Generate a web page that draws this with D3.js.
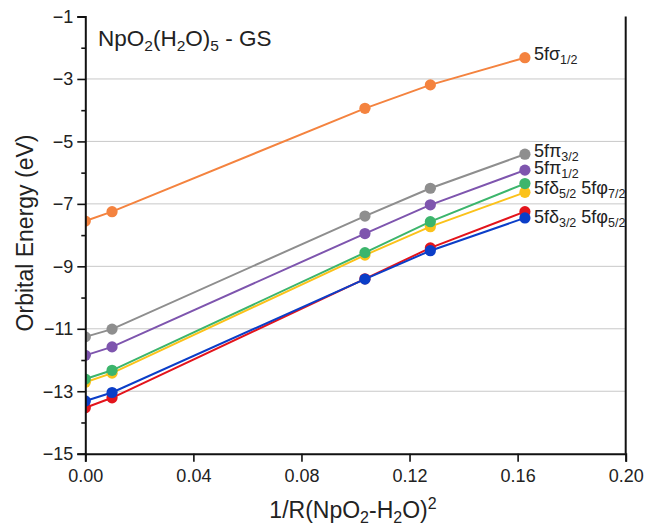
<!DOCTYPE html>
<html>
<head>
<meta charset="utf-8">
<script src="https://cdn.jsdelivr.net/npm/d3@7"></script>
<style>
  html, body { margin: 0; padding: 0; background: #fff; }
  svg { display: block; font-family: "Liberation Sans", Arial, sans-serif; }
</style>
</head>
<body>
<svg id="chart" width="646" height="525"></svg>
<script>
// ---- data ----
const xValues = [0, 0.0099, 0.1035, 0.1277, 0.1627];
const sigma12 = [-7.55, -7.25, -3.94, -3.19, -2.32];
const pi32 = [-11.26, -11.01, -7.39, -6.50, -5.41];
const pi12 = [-11.85, -11.58, -7.95, -7.03, -5.92];
const yellowSeries = [-12.71, -12.42, -8.64, -7.73, -6.63];
const greenSeries = [-12.61, -12.33, -8.56, -7.57, -6.35];
const redSeries = [-13.53, -13.21, -9.40, -8.41, -7.25];
const blueSeries = [-13.31, -13.04, -9.41, -8.50, -7.45];
const xTicks = [0, 0.04, 0.08, 0.12, 0.16, 0.20];
const yTicks = [-1, -3, -5, -7, -9, -11, -13, -15];
const yMinorTicks = [-2, -4, -6, -8, -10, -12, -14];
const gridValues = [-3, -5, -7, -9, -11, -13];

const series = [
  { values: sigma12, color: "#F4833F" },
  { values: pi32, color: "#8E8E8E" },
  { values: pi12, color: "#7E55AE" },
  { values: yellowSeries, color: "#FBC21A" },
  { values: greenSeries, color: "#3CB56C" },
  { values: redSeries, color: "#E3141C" },
  { values: blueSeries, color: "#0B3EC8" }
];

const labels = [
  { anchor: sigma12, dy: 2, parts: [["5fσ", ""], ["1/2", "sub"]] },
  { anchor: pi32, dy: 3, parts: [["5fπ", ""], ["3/2", "sub"]] },
  { anchor: pi12, dy: 4, parts: [["5fπ", ""], ["1/2", "sub"]] },
  { anchor: yellowSeries, dy: 2, parts: [["5fδ", ""], ["5/2", "sub"], [" 5fφ", ""], ["7/2", "sub"]] },
  { anchor: blueSeries, dy: 5, parts: [["5fδ", ""], ["3/2", "sub"], [" 5fφ", ""], ["5/2", "sub"]] }
];

// ---- layout ----
const svg = d3.select("#chart");
const mLeft = 85.3, mRight = 625.7, mTop = 16.5, mBottom = 453.7;

const x = d3.scaleLinear().domain([0, 0.20]).range([mLeft, mRight]);
const y = d3.scaleLinear().domain([-15, -1]).range([mBottom, mTop]);

svg.append("rect").attr("width", 646).attr("height", 525).attr("fill", "#fff");

svg.append("g").selectAll("line").data(gridValues).join("line")
  .attr("x1", mLeft).attr("x2", mRight)
  .attr("y1", d => y(d)).attr("y2", d => y(d))
  .attr("stroke", "#c8c8c8").attr("stroke-width", 1);

svg.append("clipPath").attr("id", "plotclip").append("rect")
  .attr("x", mLeft).attr("y", mTop - 10).attr("width", mRight - mLeft).attr("height", mBottom - mTop + 10);

const plot = svg.append("g").attr("clip-path", "url(#plotclip)");
const line = d3.line().x((d, i) => x(xValues[i])).y(d => y(d));

series.forEach(s => {
  const g = plot.append("g");
  g.append("path").datum(s.values).attr("d", line)
    .attr("fill", "none").attr("stroke", s.color).attr("stroke-width", 2);
  g.selectAll("circle").data(s.values).join("circle")
    .attr("cx", (d, i) => x(xValues[i])).attr("cy", d => y(d))
    .attr("r", 5.6).attr("fill", s.color);
});

const xAxis = d3.axisBottom(x).tickValues(xTicks).tickFormat(d3.format(".2f")).tickSize(8).tickPadding(4);
const gx = svg.append("g").attr("transform", `translate(0,${mBottom})`).call(xAxis);
const yAxis = d3.axisLeft(y).tickValues(yTicks).tickFormat(d => "\u2212" + Math.abs(d)).tickSize(8).tickPadding(4);
const gy = svg.append("g").attr("transform", `translate(${mLeft},0)`).call(yAxis);
const gyMinor = svg.append("g").attr("transform", `translate(${mLeft},0)`)
  .call(d3.axisLeft(y).tickValues(yMinorTicks).tickFormat("").tickSize(4));
gyMinor.select(".domain").remove();

[gx, gy, gyMinor].forEach(g => {
  g.select(".domain").attr("stroke", "#111").attr("stroke-width", 2);
  g.selectAll(".tick line").attr("stroke", "#111").attr("stroke-width", 1.6);
  g.selectAll(".tick text").attr("font-size", 18).attr("fill", "#222")
    .attr("font-family", "'Liberation Sans', Arial, sans-serif");
});
gx.selectAll(".tick text").attr("dy", "0.9em");

svg.append("line").attr("x1", mRight).attr("x2", mRight).attr("y1", mTop).attr("y2", mBottom)
  .attr("stroke", "#111").attr("stroke-width", 2);

svg.append("text").attr("transform", `translate(33,233) rotate(-90)`)
  .attr("text-anchor", "middle").attr("font-size", 23).attr("fill", "#222")
  .text("Orbital Energy (eV)");

const xt = svg.append("text").attr("x", 353).attr("y", 518).attr("text-anchor", "middle")
  .attr("font-size", 23).attr("fill", "#222");
xt.append("tspan").text("1/R(NpO");
xt.append("tspan").attr("font-size", 16).attr("dy", 5).text("2");
xt.append("tspan").attr("dy", -5).text("-H");
xt.append("tspan").attr("font-size", 16).attr("dy", 5).text("2");
xt.append("tspan").attr("dy", -5).text("O)");
xt.append("tspan").attr("font-size", 16).attr("dy", -9).text("2");

const tt = svg.append("text").attr("x", 98).attr("y", 46).attr("font-size", 22.5).attr("fill", "#222");
tt.append("tspan").text("NpO");
tt.append("tspan").attr("font-size", 15.5).attr("dy", 5).text("2");
tt.append("tspan").attr("dy", -5).text("(H");
tt.append("tspan").attr("font-size", 15.5).attr("dy", 5).text("2");
tt.append("tspan").attr("dy", -5).text("O)");
tt.append("tspan").attr("font-size", 15.5).attr("dy", 5).text("5");
tt.append("tspan").attr("dy", -5).text(" - GS");

labels.forEach(l => {
  const last = l.anchor.length - 1;
  const t = svg.append("text").attr("x", x(xValues[last]) + 9).attr("y", y(l.anchor[last]) + l.dy)
    .attr("font-size", 18).attr("fill", "#222");
  let shifted = false;
  l.parts.forEach(p => {
    const ts = t.append("tspan").text(p[0]);
    if (p[1] === "sub") { ts.attr("font-size", 12.5).attr("dy", 4); shifted = true; }
    else if (shifted) { ts.attr("dy", -4); shifted = false; }
  });
});
</script>
</body>
</html>
